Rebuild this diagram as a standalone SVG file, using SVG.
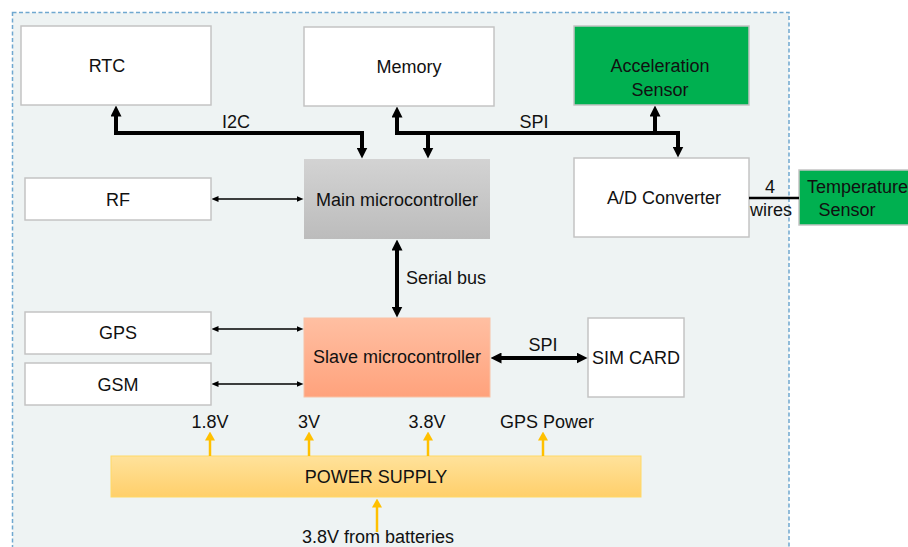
<svg xmlns="http://www.w3.org/2000/svg" width="908" height="547" viewBox="0 0 908 547">
<style>
text{font-family:"Liberation Sans",Arial,sans-serif;font-size:18px;fill:#111;text-anchor:middle}
.box{fill:#fff;stroke:#c4c4c4;stroke-width:1.5}
.green{fill:#00b050;stroke:#c4c4c4;stroke-width:1.5}
.thick{fill:none;stroke:#000;stroke-width:4}
.thin{fill:none;stroke:#000;stroke-width:1.3}
.yel{fill:none;stroke:#ffc000;stroke-width:2.5}
</style>
<defs>
<linearGradient id="gMain" x1="0" y1="0" x2="0" y2="1"><stop offset="0" stop-color="#d3d3d3"/><stop offset="1" stop-color="#bcbcbc"/></linearGradient>
<linearGradient id="gSlave" x1="0" y1="0" x2="0" y2="1"><stop offset="0" stop-color="#ffbfa2"/><stop offset="1" stop-color="#ffa27c"/></linearGradient>
<linearGradient id="gPow" x1="0" y1="0" x2="0" y2="1"><stop offset="0" stop-color="#ffe29b"/><stop offset="1" stop-color="#ffcf6a"/></linearGradient>
<marker id="aT" viewBox="0 0 11 11" refX="0.5" refY="5.5" markerWidth="11" markerHeight="11" markerUnits="userSpaceOnUse" orient="auto-start-reverse"><path d="M0,0 L11,5.5 L0,11 z" fill="#000"/></marker>
<marker id="aS" viewBox="0 0 7 6" refX="0.5" refY="3" markerWidth="7" markerHeight="6" markerUnits="userSpaceOnUse" orient="auto-start-reverse"><path d="M0,0 L7,3 L0,6 z" fill="#000"/></marker>
<marker id="aY" viewBox="0 0 9 10" refX="0.5" refY="5" markerWidth="9" markerHeight="10" markerUnits="userSpaceOnUse" orient="auto"><path d="M0,0 L9,5 L0,10 z" fill="#ffc000"/></marker>
</defs>
<rect x="12.5" y="12.5" width="776.5" height="600" fill="#eef3f3" stroke="#6fa8d0" stroke-width="1.5" stroke-dasharray="4 2.5"/>
<g id="rtc"><rect class="box" x="21" y="26" width="190" height="79"/><text x="107" y="72">RTC</text></g>
<g id="memory"><rect class="box" x="304" y="27" width="190" height="79"/><text x="409" y="73">Memory</text></g>
<g id="accel"><rect class="green" x="574" y="26" width="175" height="79"/><text x="660" y="72">Acceleration</text><text x="660" y="96">Sensor</text></g>
<g id="adc"><rect class="box" x="574" y="158" width="175" height="79"/><text x="664" y="204">A/D Converter</text></g>
<g id="temp"><rect class="green" x="799" y="170" width="120" height="55"/><text x="807" y="193" style="text-anchor:start">Temperature</text><text x="847" y="216">Sensor</text></g>
<g id="rf"><rect class="box" x="25" y="178" width="186" height="42"/><text x="118" y="206">RF</text></g>
<g id="main"><rect x="304" y="159" width="186" height="80" fill="url(#gMain)"/><text x="397" y="206">Main microcontroller</text></g>
<g id="gps"><rect class="box" x="25" y="312" width="186" height="42"/><text x="118" y="339">GPS</text></g>
<g id="gsm"><rect class="box" x="25" y="363" width="186" height="42"/><text x="118" y="391">GSM</text></g>
<g id="slave"><rect x="304" y="318" width="186" height="79" fill="url(#gSlave)" stroke="#f8c2a6" stroke-width="1"/><text x="397" y="363">Slave microcontroller</text></g>
<g id="sim"><rect class="box" x="588" y="318" width="96" height="79"/><text x="636" y="364">SIM CARD</text></g>
<g id="power"><rect x="111" y="456" width="530" height="41" fill="url(#gPow)" stroke="#ffd966" stroke-width="1"/><text x="376" y="483">POWER SUPPLY</text></g>
<g id="connectors">
<path class="thick" d="M116,116 L116,133 L362,133 L362,148" marker-start="url(#aT)" marker-end="url(#aT)"/>
<path class="thick" d="M397,117 L397,133 L678,133 L678,147" marker-start="url(#aT)" marker-end="url(#aT)"/>
<path class="thick" d="M428,133 L428,148" marker-end="url(#aT)"/>
<path class="thick" d="M655,133 L655,116" marker-end="url(#aT)"/>
<path class="thick" d="M397,250 L397,307" marker-start="url(#aT)" marker-end="url(#aT)"/>
<path class="thick" d="M501,358 L577,358" marker-start="url(#aT)" marker-end="url(#aT)"/>
<path class="thin" d="M218,199 L297,199" marker-start="url(#aS)" marker-end="url(#aS)"/>
<path class="thin" d="M218,329 L297,329" marker-start="url(#aS)" marker-end="url(#aS)"/>
<path class="thin" d="M218,384 L297,384" marker-start="url(#aS)" marker-end="url(#aS)"/>
<path d="M749,198 L799,198" stroke="#000" stroke-width="2.5" fill="none"/>
<path class="yel" d="M210,456 L210,440" marker-end="url(#aY)"/>
<path class="yel" d="M309,456 L309,440" marker-end="url(#aY)"/>
<path class="yel" d="M428,456 L428,440" marker-end="url(#aY)"/>
<path class="yel" d="M543,456 L543,440" marker-end="url(#aY)"/>
<path class="yel" d="M377,532 L377,507" marker-end="url(#aY)"/>
<text x="236" y="128">I2C</text>
<text x="534" y="128">SPI</text>
<text x="406" y="284" style="text-anchor:start">Serial bus</text>
<text x="543" y="351">SPI</text>
<text x="770" y="193">4</text>
<text x="771" y="216">wires</text>
<text x="210" y="428">1.8V</text>
<text x="309" y="428">3V</text>
<text x="427" y="428">3.8V</text>
<text x="547" y="428">GPS Power</text>
<text x="378" y="543">3.8V from batteries</text>
</g>
</svg>
